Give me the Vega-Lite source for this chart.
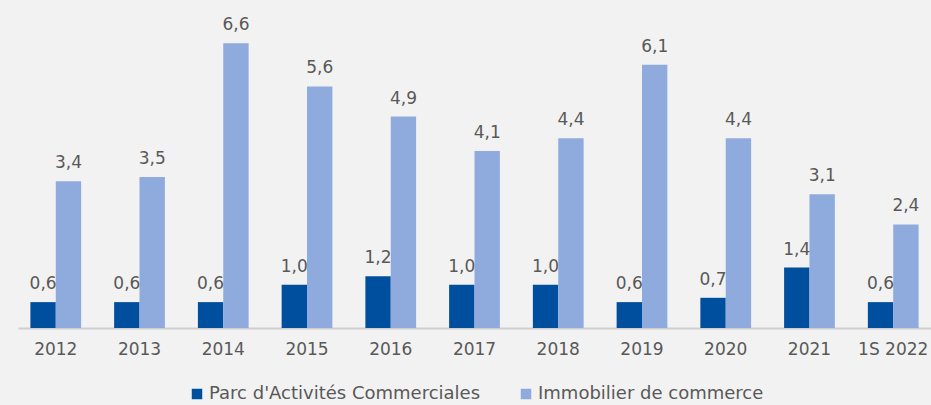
{
  "$schema": "https://vega.github.io/schema/vega-lite/v6.json",
  "autosize": "none",
  "width": 913,
  "height": 302,
  "padding": {"left": 18, "top": 26, "right": 0, "bottom": 77},
  "background": "#F2F2F2",
  "config": {
    "view": {"stroke": null},
    "font": "DejaVu Sans",
    "locale": {"number": {"decimal": ",", "thousands": " ", "grouping": [3], "currency": ["", " €"]}}
  },
  "data": {
    "values": [
      {"annee": "2012", "serie": "Parc d'Activités Commerciales", "valeur": 0.6},
      {"annee": "2012", "serie": "Immobilier de commerce", "valeur": 3.4},
      {"annee": "2013", "serie": "Parc d'Activités Commerciales", "valeur": 0.6},
      {"annee": "2013", "serie": "Immobilier de commerce", "valeur": 3.5},
      {"annee": "2014", "serie": "Parc d'Activités Commerciales", "valeur": 0.6},
      {"annee": "2014", "serie": "Immobilier de commerce", "valeur": 6.6},
      {"annee": "2015", "serie": "Parc d'Activités Commerciales", "valeur": 1.0},
      {"annee": "2015", "serie": "Immobilier de commerce", "valeur": 5.6},
      {"annee": "2016", "serie": "Parc d'Activités Commerciales", "valeur": 1.2},
      {"annee": "2016", "serie": "Immobilier de commerce", "valeur": 4.9},
      {"annee": "2017", "serie": "Parc d'Activités Commerciales", "valeur": 1.0},
      {"annee": "2017", "serie": "Immobilier de commerce", "valeur": 4.1},
      {"annee": "2018", "serie": "Parc d'Activités Commerciales", "valeur": 1.0},
      {"annee": "2018", "serie": "Immobilier de commerce", "valeur": 4.4},
      {"annee": "2019", "serie": "Parc d'Activités Commerciales", "valeur": 0.6},
      {"annee": "2019", "serie": "Immobilier de commerce", "valeur": 6.1},
      {"annee": "2020", "serie": "Parc d'Activités Commerciales", "valeur": 0.7},
      {"annee": "2020", "serie": "Immobilier de commerce", "valeur": 4.4},
      {"annee": "2021", "serie": "Parc d'Activités Commerciales", "valeur": 1.4},
      {"annee": "2021", "serie": "Immobilier de commerce", "valeur": 3.1},
      {"annee": "1S 2022", "serie": "Parc d'Activités Commerciales", "valeur": 0.6},
      {"annee": "1S 2022", "serie": "Immobilier de commerce", "valeur": 2.4}
    ]
  },
  "encoding": {
    "x": {
      "field": "annee", "type": "nominal", "sort": null, "title": null,
      "scale": {"paddingInner": 0.394, "paddingOuter": 0.148},
      "axis": {"labelAngle": 0, "ticks": false, "domainColor": "#D0D0D0", "domainWidth": 2, "labelColor": "#595959", "labelFontSize": 17, "labelPadding": 13, "grid": false}
    },
    "xOffset": {"field": "serie", "type": "nominal", "sort": ["Parc d'Activités Commerciales", "Immobilier de commerce"]},
    "y": {
      "field": "valeur", "type": "quantitative", "scale": {"domain": [0, 7]}, "axis": null
    }
  },
  "layer": [
    {
      "mark": {"type": "bar"},
      "encoding": {
        "color": {
          "field": "serie", "type": "nominal", "title": null,
          "sort": ["Parc d'Activités Commerciales", "Immobilier de commerce"],
          "scale": {"domain": ["Parc d'Activités Commerciales", "Immobilier de commerce"], "range": ["#004F9F", "#8FAADC"]},
          "legend": {"orient": "none", "legendX": 170, "legendY": 359, "direction": "horizontal", "symbolType": "square", "symbolSize": 110, "symbolStrokeWidth": 0, "labelFontSize": 18, "labelColor": "#595959", "columnPadding": 36, "labelOffset": 3, "labelLimit": 400}
        }
      }
    },
    {
      "mark": {"type": "text", "baseline": "bottom", "dy": -9, "fontSize": 17, "color": "#595959"},
      "encoding": {
        "text": {"field": "valeur", "type": "quantitative", "format": ".1f"}
      }
    }
  ]
}
